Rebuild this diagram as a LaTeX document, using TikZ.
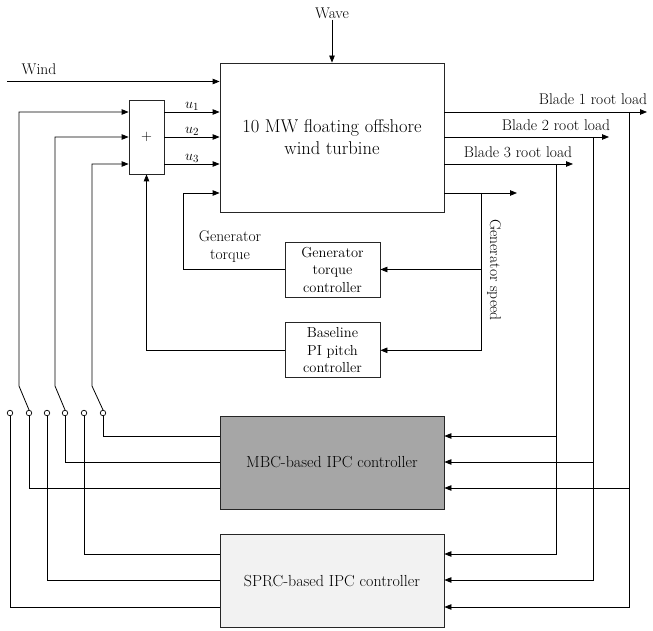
\documentclass[tikz,border=0pt]{standalone}
\usepackage{tikz}
\usetikzlibrary{arrows.meta, positioning}
\definecolor{mbcgray}{HTML}{A6A6A6}
\definecolor{sprcgray}{HTML}{F2F2F2}

\begin{document}
\begin{tikzpicture}[
    x=1pt, y=-1pt,
    blockbox/.style={rectangle, draw=black!85, line width=0.8pt, align=center,
                 inner sep=1pt},
    ctrlbox/.style={blockbox, minimum width=95pt, minimum height=55pt,
                 font=\fontsize{14.5}{17.5}\selectfont},
    ipcbox/.style={blockbox, minimum width=224pt, minimum height=93pt,
                 font=\fontsize{16}{19}\selectfont},
    switchpin/.style={circle, draw, line width=0.7pt, fill=white,
                 minimum size=5.5pt, inner sep=0pt},
    sig/.style={line width=0.8pt},
    arr/.style={sig, -{Triangle[length=7pt, width=5.5pt]}},
    lbl/.style={inner sep=1pt, align=center, font=\fontsize{15.5}{18}\selectfont}
  ]

  \useasboundingbox (0,0) rectangle (653,631);

  % blocks
  \node[blockbox, minimum width=224pt, minimum height=149pt,
        font=\fontsize{18.5}{22}\selectfont] (turbine) at (332,137.5)
        {10 MW floating offshore\\wind turbine};
  \node[blockbox, minimum width=35pt, minimum height=74pt,
        font=\fontsize{15}{16}\selectfont] (sum) at (146.5,137) {$+$};
  \node[ctrlbox] (gtc) at (332.5,269.5) {Generator\\torque\\controller};
  \node[ctrlbox, below=25pt of gtc] (pi) {Baseline\\PI pitch\\controller};
  \node[ipcbox, fill=mbcgray] (mbc) at (332,462.5) {MBC-based IPC controller};
  \node[ipcbox, fill=sprcgray, below=25pt of mbc] (sprc) {SPRC-based IPC controller};

  % switch contacts
  \foreach \k/\xx in {1/10,2/29,3/47,4/65,5/84,6/103}
    \node[switchpin] (sw\k) at (\xx,413) {};

  % rows and columns
  \coordinate (rw) at (0,81.5);
  \coordinate (r1) at (0,112);
  \coordinate (r2) at (0,137);
  \coordinate (r3) at (0,164);
  \coordinate (r4) at (0,193);
  \coordinate (m1) at (0,436);
  \coordinate (m2) at (0,462);
  \coordinate (m3) at (0,488);
  \coordinate (s1) at (0,554);
  \coordinate (s2) at (0,580);
  \coordinate (s3) at (0,607);
  \coordinate (fb1) at (19,386);
  \coordinate (fb2) at (55,386);
  \coordinate (fb3) at (92,386);
  \coordinate (tq) at (183,0);
  \coordinate (gs) at (481,0);
  \coordinate (bl1) at (629,0);
  \coordinate (bl2) at (593,0);
  \coordinate (bl3) at (556,0);
  \coordinate (windin) at (7,81.5);
  \coordinate (gsend) at (517,193);
  \coordinate (bl1end) at (647,112);
  \coordinate (bl2end) at (609,137);
  \coordinate (bl3end) at (573,164);

  % disturbances
  \node[lbl] (wave) at (332,13) {Wave};
  \draw[arr] (wave.south) -- (turbine.north);
  \node[lbl] (wind) at (39,69) {Wind};
  \draw[arr] (windin) -- (turbine.west |- rw);

  % pitch demand
  \draw[arr] (sw2.north) -- (fb1) |- (sum.west |- r1);
  \draw[arr] (sw4.north) -- (fb2) |- (sum.west |- r2);
  \draw[arr] (sw6.north) -- (fb3) |- (sum.west |- r3);
  \draw[arr] (sum.east |- r1) -- node[lbl, above] {$u_1$} (turbine.west |- r1);
  \draw[arr] (sum.east |- r2) -- node[lbl, above] {$u_2$} (turbine.west |- r2);
  \draw[arr] (sum.east |- r3) -- node[lbl, above] {$u_3$} (turbine.west |- r3);
  \draw[arr] (pi.west) -| (sum.south);

  % generator loop
  \draw[arr] (gtc.west) -| (tq |- r4) -- (turbine.west |- r4);
  \node[lbl] (tqlbl) at (230,247) {Generator\\torque};
  \draw[arr] (turbine.east |- r4) -- (gsend);
  \draw[arr] (gs |- r4) |- (pi.east);
  \draw[arr] (gs |- gtc.east) -- (gtc.east);
  \node[lbl, rotate=-90] (gslbl) at (494,270) {Generator speed};

  % blade root loads
  \draw[arr] (turbine.east |- r1) -- (bl1end);
  \draw[arr] (turbine.east |- r2) -- (bl2end);
  \draw[arr] (turbine.east |- r3) -- (bl3end);
  \node[lbl] (bl1lbl) at (593,99) {Blade 1 root load};
  \node[lbl] (bl2lbl) at (556,125) {Blade 2 root load};
  \node[lbl] (bl3lbl) at (518,152) {Blade 3 root load};
  \draw[arr] (bl1 |- r1) |- (sprc.east |- s3);
  \draw[arr] (bl2 |- r2) |- (sprc.east |- s2);
  \draw[arr] (bl3 |- r3) |- (sprc.east |- s1);
  \draw[arr] (bl1 |- m3) -- (mbc.east |- m3);
  \draw[arr] (bl2 |- m2) -- (mbc.east |- m2);
  \draw[arr] (bl3 |- m1) -- (mbc.east |- m1);

  % IPC outputs to switches
  \draw[sig] (mbc.west |- m1) -| (sw6.south);
  \draw[sig] (mbc.west |- m2) -| (sw4.south);
  \draw[sig] (mbc.west |- m3) -| (sw2.south);
  \draw[sig] (sprc.west |- s1) -| (sw5.south);
  \draw[sig] (sprc.west |- s2) -| (sw3.south);
  \draw[sig] (sprc.west |- s3) -| (sw1.south);

\end{tikzpicture}
\end{document}
